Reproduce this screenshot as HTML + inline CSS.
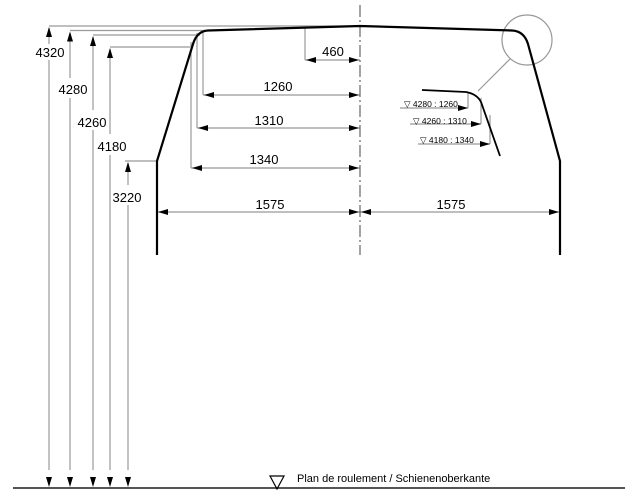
<!DOCTYPE html>
<html><head><meta charset="utf-8"><style>html,body{margin:0;padding:0;background:#fff}svg{display:block}</style></head>
<body>
<svg width="633" height="498" viewBox="0 0 633 498" xmlns="http://www.w3.org/2000/svg" font-family="Liberation Sans, sans-serif">
<defs>
<marker id="a" viewBox="0 0 10 6" refX="10" refY="3" markerWidth="10" markerHeight="6" orient="auto" markerUnits="userSpaceOnUse"><path d="M0,0 L10,3 L0,6 z" fill="#000"/></marker>
</defs>
<g stroke="#999" stroke-width="1.2" fill="none">
<!-- top horizontal reference lines -->
<line x1="49" y1="26" x2="360" y2="26"/>
<line x1="70" y1="30.5" x2="205" y2="30.5"/>
<line x1="93" y1="35" x2="200" y2="35"/>
<line x1="110" y1="47" x2="190" y2="47"/>
<line x1="125" y1="161" x2="157" y2="161"/>
<!-- verticals -->
<line x1="49" y1="60" x2="49" y2="470"/>
<line x1="70" y1="98" x2="70" y2="470"/>
<line x1="93" y1="130" x2="93" y2="470"/>
<line x1="110" y1="155" x2="110" y2="470"/>
<line x1="128" y1="205" x2="128" y2="470"/>
<line x1="49" y1="28" x2="49" y2="44"/>
<line x1="70" y1="33" x2="70" y2="78"/>
<line x1="93" y1="37" x2="93" y2="110"/>
<line x1="110" y1="49" x2="110" y2="134"/>
<line x1="128" y1="163" x2="128" y2="185"/>
<!-- ticks -->
<line x1="305" y1="28" x2="305" y2="60"/>
<line x1="203" y1="31" x2="203" y2="95"/>
<line x1="197" y1="33" x2="197" y2="128"/>
<line x1="191" y1="42" x2="191" y2="168"/>
<!-- dims -->
<line x1="305" y1="60" x2="360" y2="60"/>
<line x1="203" y1="95" x2="360" y2="95"/>
<line x1="197" y1="128" x2="360" y2="128"/>
<line x1="191" y1="168" x2="360" y2="168"/>
<line x1="157" y1="212" x2="560" y2="212"/>
<!-- circle and leader -->
<circle cx="527" cy="40" r="25"/>
<line x1="510" y1="59" x2="478" y2="91"/>
<line x1="468" y1="92" x2="468" y2="108"/>
<line x1="481" y1="98" x2="481" y2="124"/>
<line x1="490" y1="115" x2="490" y2="144"/>
<line x1="400" y1="108" x2="468" y2="108"/>
<line x1="410" y1="124" x2="481" y2="124"/>
<line x1="418" y1="144" x2="490" y2="144"/>
</g>
<!-- arrowheads -->
<g stroke="#000" stroke-width="0.01" fill="none">
<line x1="49" y1="40" x2="49" y2="27" marker-end="url(#a)"/>
<line x1="70" y1="45" x2="70" y2="31.5" marker-end="url(#a)"/>
<line x1="93" y1="50" x2="93" y2="36" marker-end="url(#a)"/>
<line x1="110" y1="60" x2="110" y2="48" marker-end="url(#a)"/>
<line x1="128" y1="175" x2="128" y2="162" marker-end="url(#a)"/>
<line x1="49" y1="470" x2="49" y2="487" marker-end="url(#a)"/>
<line x1="70" y1="470" x2="70" y2="487" marker-end="url(#a)"/>
<line x1="93" y1="470" x2="93" y2="487" marker-end="url(#a)"/>
<line x1="110" y1="470" x2="110" y2="487" marker-end="url(#a)"/>
<line x1="128" y1="470" x2="128" y2="487" marker-end="url(#a)"/>
<line x1="320" y1="60" x2="306" y2="60" marker-end="url(#a)"/>
<line x1="340" y1="60" x2="359" y2="60" marker-end="url(#a)"/>
<line x1="220" y1="95" x2="204" y2="95" marker-end="url(#a)"/>
<line x1="340" y1="95" x2="359" y2="95" marker-end="url(#a)"/>
<line x1="215" y1="128" x2="198" y2="128" marker-end="url(#a)"/>
<line x1="340" y1="128" x2="359" y2="128" marker-end="url(#a)"/>
<line x1="210" y1="168" x2="192" y2="168" marker-end="url(#a)"/>
<line x1="340" y1="168" x2="359" y2="168" marker-end="url(#a)"/>
<line x1="175" y1="212" x2="158" y2="212" marker-end="url(#a)"/>
<line x1="340" y1="212" x2="359" y2="212" marker-end="url(#a)"/>
<line x1="380" y1="212" x2="361" y2="212" marker-end="url(#a)"/>
<line x1="540" y1="212" x2="559" y2="212" marker-end="url(#a)"/>
<line x1="460" y1="108" x2="468" y2="108" marker-end="url(#a)"/>
<line x1="473" y1="124" x2="481" y2="124" marker-end="url(#a)"/>
<line x1="482" y1="144" x2="490" y2="144" marker-end="url(#a)"/>
</g>
<!-- centerline -->
<line x1="360" y1="5" x2="360" y2="255" stroke="#444" stroke-width="1" stroke-dasharray="12,3,2,3"/>
<!-- profile -->
<path d="M157,255 L157,161 L193,44 Q197,31 208,30.5 L360,26 L512,30.5 Q524,31 528,44 L560,161 L560,255" fill="none" stroke="#000" stroke-width="2.2"/>
<path d="M422,90 L466,92 Q477,94 481,102 L500,156" fill="none" stroke="#000" stroke-width="1.8"/>
<!-- ground -->
<line x1="13" y1="488" x2="625" y2="488" stroke="#555" stroke-width="2"/>
<path d="M270,476 L284,476 L277,489 z" fill="none" stroke="#000" stroke-width="1.2"/>
<!-- labels -->
<g font-size="13" fill="#000" text-anchor="middle">
<rect x="35" y="45" width="30" height="14" fill="#fff"/>
<text x="50" y="57">4320</text>
<text x="73" y="94">4280</text>
<text x="92" y="127">4260</text>
<text x="112" y="151">4180</text>
<text x="127" y="202">3220</text>
<text x="333" y="56">460</text>
<text x="278" y="91">1260</text>
<text x="269" y="125">1310</text>
<text x="264" y="164">1340</text>
<text x="270" y="209">1575</text>
<text x="451" y="209">1575</text>
</g>
<g font-size="8.5" fill="#000">
<text x="404" y="107">▽ 4280 : 1260</text>
<text x="413" y="124">▽ 4260 : 1310</text>
<text x="420" y="143">▽ 4180 : 1340</text>
</g>
<text x="297" y="482" font-size="11" fill="#000">Plan de roulement / Schienenoberkante</text>
</svg>
</body></html>
